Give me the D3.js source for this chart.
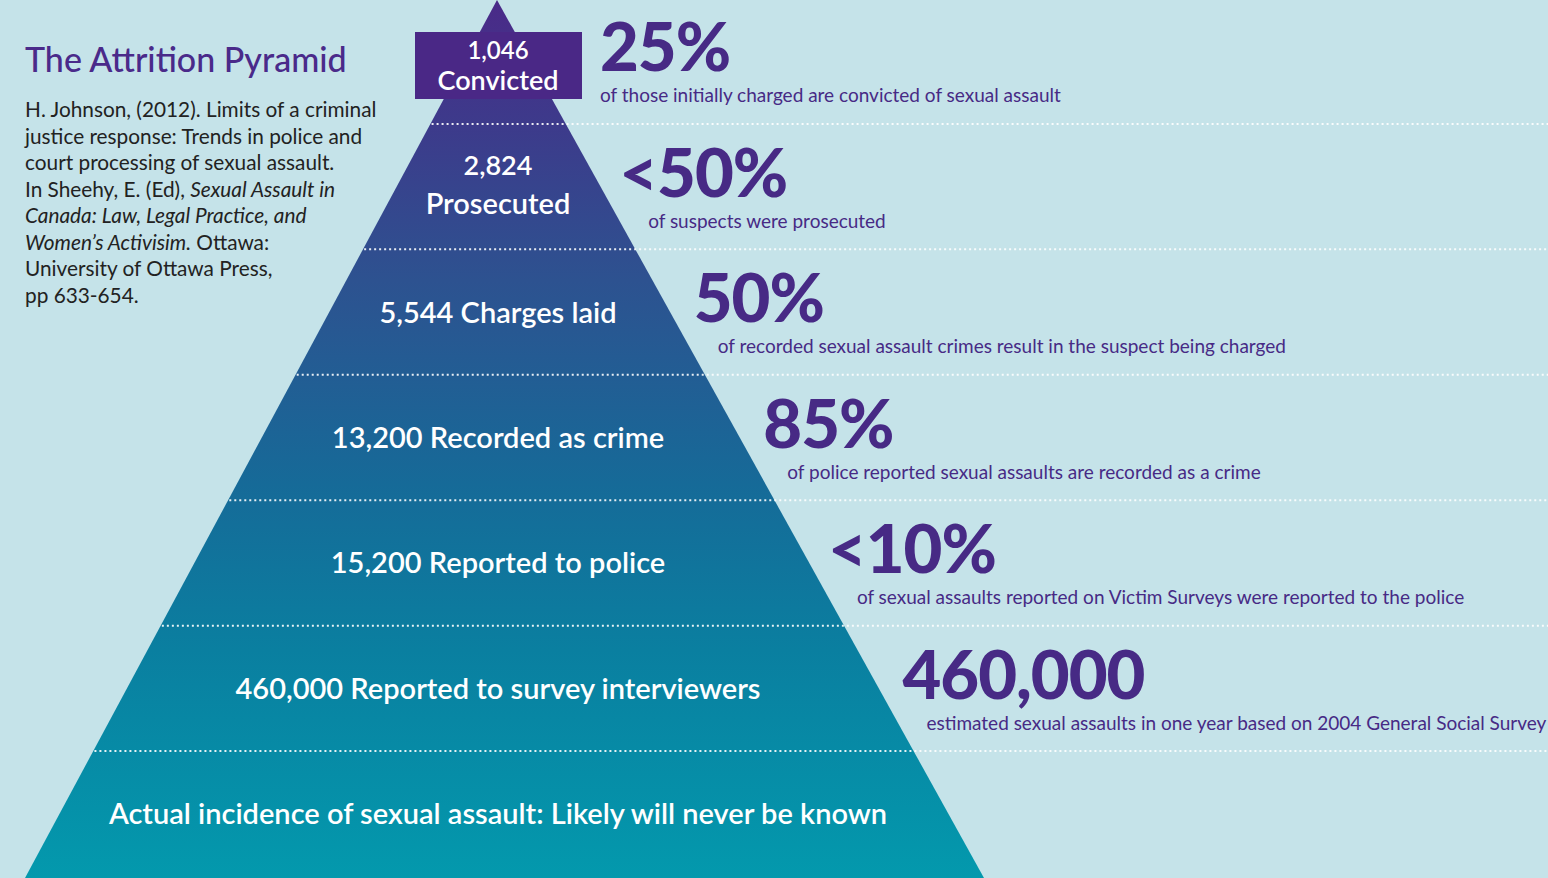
<!DOCTYPE html>
<html>
<head>
<meta charset="utf-8">
<script src="https://cdn.jsdelivr.net/npm/d3@7"></script>
<style>
  html, body { margin: 0; padding: 0; background: #c5e3e9; overflow: hidden; }
  text { font-family: Lato, "Open Sans", sans-serif; }
</style>
</head>
<body>
<div id="chart"></div>
<script>
// stages from the top of the pyramid to its base
const stageCounts = ['1,046', '2,824', '5,544', '13,200', '15,200', '460,000', ''];
const stageLabels = [
  'Convicted',
  'Prosecuted',
  'Charges laid',
  'Recorded as crime',
  'Reported to police',
  'Reported to survey interviewers',
  'Actual incidence of sexual assault: Likely will never be known'
];
const statValues = ['25%', '<50%', '50%', '85%', '<10%', '460,000'];
const statNotes = [
  'of those initially charged are convicted of sexual assault',
  'of suspects were prosecuted',
  'of recorded sexual assault crimes result in the suspect being charged',
  'of police reported sexual assaults are recorded as a crime',
  'of sexual assaults reported on Victim Surveys were reported to the police',
  'estimated sexual assaults in one year based on 2004 General Social Survey'
];
const titleText = 'The Attrition Pyramid';
const citationLines = [
  [{ t: 'H. Johnson, (2012). Limits of a criminal' }],
  [{ t: 'justice response: Trends in police and' }],
  [{ t: 'court processing of sexual assault.' }],
  [{ t: 'In Sheehy, E. (Ed), ' }, { t: 'Sexual Assault in', i: true }],
  [{ t: 'Canada: Law, Legal Practice, and', i: true }],
  [{ t: 'Women\u2019s Activisim.', i: true }, { t: ' Ottawa:' }],
  [{ t: 'University of Ottawa Press,' }],
  [{ t: 'pp 633-654.' }]
];

const width = 1548;
const height = 878;
const apex = { x: 497, y: 0 };
const base = { left: 25, right: 984 };
const purple = '#472a85';

const svg = d3
  .select('#chart')
  .append('svg')
  .attr('width', width)
  .attr('height', height);

svg.append('rect').attr('width', width).attr('height', height).attr('fill', '#c5e3e9');

// vertical bands, one per stage
const y = d3
  .scaleBand()
  .domain(d3.range(stageLabels.length))
  .range([0, height])
  .paddingInner(0);

// edges of the triangle as a function of y
const xLeft = d3.scaleLinear().domain([0, height]).range([apex.x, base.left]);
const xRight = d3.scaleLinear().domain([0, height]).range([apex.x, base.right]);

const grad = svg
  .append('defs')
  .append('linearGradient')
  .attr('id', 'pyr')
  .attr('gradientUnits', 'userSpaceOnUse')
  .attr('x1', 0).attr('y1', 0)
  .attr('x2', 0).attr('y2', height);

[
  [0, '#4a2a88'],
  [0.14, '#3d3a8b'],
  [0.32, '#2d5290'],
  [0.55, '#166a98'],
  [0.74, '#0a7fa0'],
  [1, '#0399ad']
].forEach(([o, c]) => grad.append('stop').attr('offset', o).attr('stop-color', c));

svg
  .append('path')
  .attr('fill', 'url(#pyr)')
  .attr(
    'd',
    d3.line()([
      [apex.x, apex.y],
      [xRight(height), height],
      [xLeft(height), height]
    ]) + 'Z'
  );

// dotted separators between stages
const seps = d3.range(1, stageLabels.length);
svg
  .selectAll('.sep')
  .data(seps)
  .enter()
  .append('line')
  .attr('class', 'sep')
  .attr('x1', d => xLeft(y(d)) + 2)
  .attr('x2', width)
  .attr('y1', d => y(d) - 1.5)
  .attr('y2', d => y(d) - 1.5)
  .attr('stroke', '#fff')
  .attr('stroke-width', 2)
  .attr('stroke-dasharray', '2 3')
  .attr('opacity', 0.9);

// top box for the convicted stage
const box = { x: 415, y: 32, w: 167, h: 67 };
svg
  .append('rect')
  .attr('x', box.x)
  .attr('y', box.y)
  .attr('width', box.w)
  .attr('height', box.h)
  .attr('fill', '#4a2886');

const cx = 498;
const labels = svg.append('g').attr('fill', '#fff').attr('text-anchor', 'middle');

// top stage: two lines inside the box
labels.append('text').attr('x', cx).attr('y', 59).attr('font-size', 24).attr('font-weight', 600).text(stageCounts[0]);
labels.append('text').attr('x', cx).attr('y', 90).attr('font-size', 27).attr('font-weight', 600).text(stageLabels[0]);

// second stage: two lines
labels.append('text').attr('x', cx).attr('y', 175).attr('font-size', 27).attr('font-weight', 600).text(stageCounts[1]);
labels.append('text').attr('x', cx).attr('y', 214).attr('font-size', 29).attr('font-weight', 600).text(stageLabels[1]);

// remaining stages: one line each
labels
  .selectAll('.stage')
  .data(d3.range(2, stageLabels.length))
  .enter()
  .append('text')
  .attr('class', 'stage')
  .attr('x', cx)
  .attr('y', d => y(d) + y.bandwidth() / 2 + 9)
  .attr('font-size', 29)
  .attr('font-weight', 600)
  .text(d => (stageCounts[d] ? stageCounts[d] + ' ' : '') + stageLabels[d]);

// right hand statistics
const noteX = i =>
  i === 0 ? box.x + box.w + 18 : xRight(y(i) + y.bandwidth() - 27) + 27;

const stats = svg.append('g').attr('fill', purple);

stats
  .selectAll('.stat')
  .data(statValues)
  .enter()
  .append('text')
  .attr('class', 'stat')
  .attr('x', (d, i) => noteX(i) - (i === 0 ? 0 : d.startsWith('<') ? 29 : 24))
  .attr('y', (d, i) => y(i) + y.bandwidth() - 54)
  .attr('font-size', 67)
  .attr('font-weight', 900)
  .attr('letter-spacing', -1)
  .text(d => d);

stats
  .selectAll('.note')
  .data(statNotes)
  .enter()
  .append('text')
  .attr('class', 'note')
  .attr('x', (d, i) => noteX(i))
  .attr('y', (d, i) => y(i) + y.bandwidth() - 23)
  .attr('font-size', 19)
  .text(d => d);

// title and citation
svg
  .append('text')
  .attr('x', 25)
  .attr('y', 72)
  .attr('fill', '#4a2a8a')
  .attr('font-size', 34)
  .attr('font-weight', 500)
  .text(titleText);

const cite = svg.append('g').attr('fill', '#222').attr('font-size', 20.8);
cite
  .selectAll('text')
  .data(citationLines)
  .enter()
  .append('text')
  .attr('x', 25)
  .attr('y', (d, i) => 117 + i * 26.5)
  .each(function (parts) {
    d3.select(this)
      .selectAll('tspan')
      .data(parts)
      .enter()
      .append('tspan')
      .attr('font-style', p => (p.i ? 'italic' : 'normal'))
      .text(p => p.t);
  });
</script>
</body>
</html>
